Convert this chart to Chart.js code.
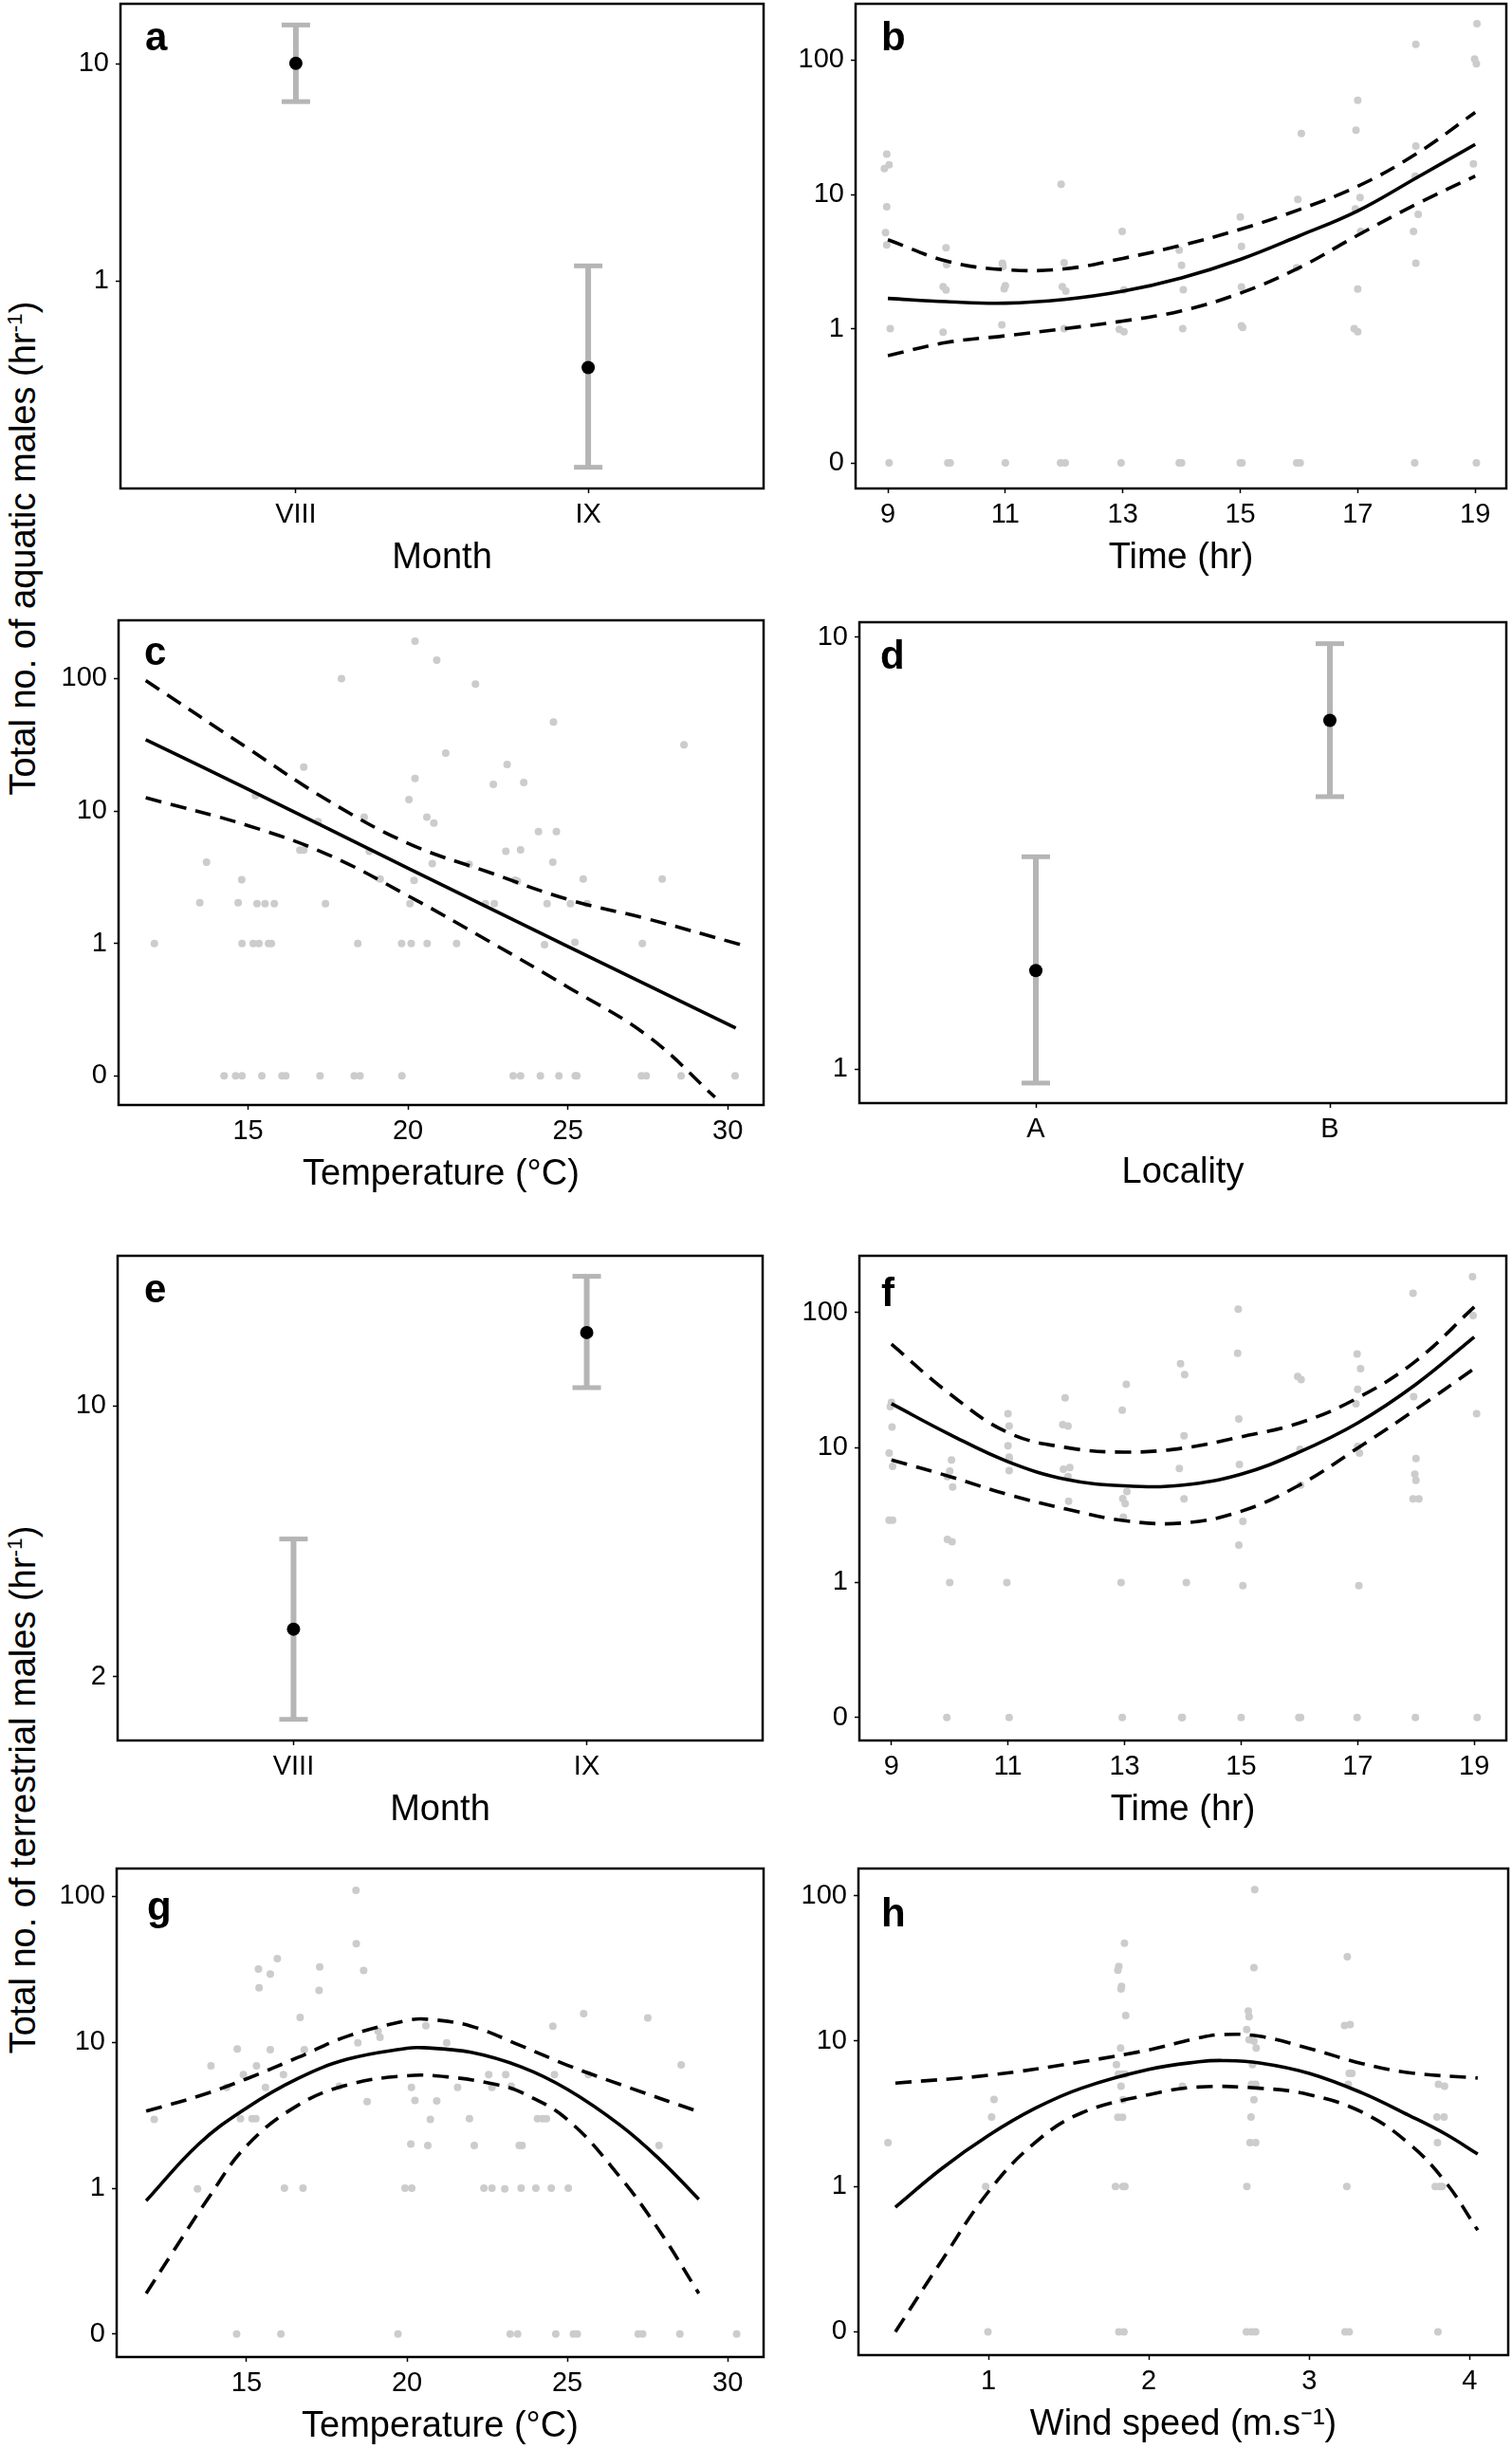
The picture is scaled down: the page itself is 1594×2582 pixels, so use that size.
<!DOCTYPE html>
<html>
<head>
<meta charset="utf-8">
<title>Aquatic and terrestrial males</title>
<script src="https://cdn.jsdelivr.net/npm/chart.js@4.4.1/dist/chart.umd.min.js"></script>
<style>
    html, body { margin: 0; padding: 0; background: #fff; overflow: hidden; }
    body { position: relative; width: 1594px; height: 2582px; font-family: "Liberation Sans", Arial, sans-serif; }
    canvas.panel { position: absolute; }
    .ytitle {
        position: absolute; white-space: nowrap; font-size: 38px; color: #000;
        transform: translate(-50%, -50%) rotate(-90deg);
    }
    .ytitle sup { font-size: 0.6em; }
</style>
</head>
<body>
<div class="ytitle" style="left:24px; top:578px">Total no. of aquatic males (hr<sup>-1</sup>)</div>
<div class="ytitle" style="left:24px; top:1887px">Total no. of terrestrial males (hr<sup>-1</sup>)</div>

<canvas id="panelA" class="panel"></canvas>
<canvas id="panelB" class="panel"></canvas>
<canvas id="panelC" class="panel"></canvas>
<canvas id="panelD" class="panel"></canvas>
<canvas id="panelE" class="panel"></canvas>
<canvas id="panelF" class="panel"></canvas>
<canvas id="panelG" class="panel"></canvas>
<canvas id="panelH" class="panel"></canvas>

<script>
// ---- data ----
const monthCats = ['VIII', 'IX'];
const localityCats = ['A', 'B'];
const countTicks = [0, 1, 10, 100];
const hours = [9, 10, 11, 12, 13, 14, 15, 16, 17, 18, 19];

// a: aquatic males by month
const aquaticMonthMean = [10.06, 0.40];
const aquaticMonthLow = [6.70, 0.139];
const aquaticMonthHigh = [15.1, 1.175];

// d: aquatic males by locality
const localityMean = [1.69, 6.41];
const localityLow = [0.928, 4.27];
const localityHigh = [3.10, 9.65];

// e: terrestrial males by month
const terrMonthMean = [2.65, 15.46];
const terrMonthLow = [1.55, 11.14];
const terrMonthHigh = [4.53, 21.6];

// b: aquatic males vs time of day
const bTime = [8.98, 9.02, 8.94, 8.98, 8.96, 8.98, 9.04, 9.02,
    9.99, 10.0, 9.94, 9.99, 9.94, 10.02, 10.06,
    10.95, 10.96, 11.0, 10.98, 10.94, 11.0,
    11.95, 12.0, 11.97, 12.03, 12.0, 11.94, 12.02,
    12.99, 13.02, 12.94, 13.02, 12.97,
    13.96, 14.0, 14.03, 14.02, 13.96, 14.0,
    15.0, 15.02, 15.02, 15.02, 15.04, 15.0, 15.03,
    16.04, 15.98, 15.96, 15.96, 16.02,
    17.0, 16.97, 17.04, 16.96, 17.05, 17.0, 16.94, 17.0,
    17.99, 17.99, 17.98, 18.03, 17.95, 17.99, 17.97,
    19.03, 18.99, 19.02, 18.97, 19.02];
const bCount = [20, 16.6, 15.6, 8.1, 5.2, 4.2, 1.0, 0,
    4.0, 3.0, 2.06, 1.94, 0.94, 0, 0,
    3.07, 2.9, 2.09, 1.98, 1.07, 0,
    11.9, 3.1, 2.06, 1.9, 1.0, 0, 0,
    5.3, 1.94, 0.99, 0.95, 0,
    3.85, 2.96, 1.95, 1.0, 0, 0,
    6.8, 4.1, 2.05, 1.05, 1.02, 0, 0,
    28.4, 9.2, 2.85, 0, 0,
    50.3, 30.1, 9.5, 7.8, 5.3, 1.97, 1.0, 0.95,
    131, 22.9, 13.7, 7.1, 5.3, 3.07, 0,
    187, 102, 94, 16.9, 0];
const bFit = [1.68, 1.59, 1.55, 1.65, 1.90, 2.39, 3.28, 4.91, 7.54, 13.3, 23.6];
const bUpper = [4.6, 3.19, 2.75, 2.79, 3.34, 4.18, 5.5, 7.7, 11.5, 20.1, 40.8];
const bLower = [0.63, 0.79, 0.885, 1.0, 1.14, 1.36, 1.84, 2.84, 4.97, 8.47, 13.7];

// c: aquatic males vs temperature
const cTemp = [20.22, 20.9, 17.92, 22.11, 24.55, 28.63, 21.18, 23.1, 16.74, 20.22,
    22.67, 23.62, 15.23, 20.03, 20.59, 20.81, 18.63, 17.19, 24.08, 24.64,
    16.62, 16.74, 18.79, 23.06, 23.52, 13.7, 20.76, 21.91, 24.53, 14.8,
    19.13, 20.19, 23.35, 23.42, 25.48, 27.95, 13.49, 14.69, 15.28, 15.53,
    15.82, 17.42, 20.06, 22.42, 22.7, 24.35, 25.08, 25.6, 12.07, 14.81,
    15.16, 15.34, 15.64, 15.73, 18.43, 19.8, 20.1, 20.6, 21.52, 24.27,
    25.22, 27.33,
    14.25, 14.61, 14.81, 15.43, 16.06, 16.18, 17.25, 18.32, 18.5, 19.81,
    23.29, 23.52, 24.14, 24.72, 25.23, 25.28, 27.3, 27.45, 28.54, 30.23];
const cCount = [192, 138, 100, 91, 47, 31.6, 27.4, 22.5, 21.5, 17.6,
    15.9, 16.4, 13.1, 12.2, 9.0, 8.1, 9.0, 8.3, 7.0, 7.0,
    5.06, 5.06, 4.96, 4.96, 5.08, 4.1, 4.0, 3.96, 4.1, 3.03,
    3.07, 2.99, 3.0, 2.95, 3.07, 3.07, 2.03, 2.03, 2.0, 2.0,
    2.0, 2.0, 2.0, 2.0, 2.0, 2.0, 2.0, 2.0, 1.0, 1.0,
    1.0, 1.0, 1.0, 1.0, 1.0, 1.0, 1.0, 1.0, 1.0, 0.98,
    1.02, 1.0,
    0, 0, 0, 0, 0, 0, 0, 0, 0, 0,
    0, 0, 0, 0, 0, 0, 0, 0, 0, 0];
const cFitTemp = [11.8, 15, 20, 25, 30.25];
const cFit = [34.5, 14.6, 3.7, 0.95, 0.23];
const cUpperTemp = [11.8, 15, 17.5, 20, 22.5, 25, 27.5, 30.4];
const cUpper = [96.6, 29.7, 12.0, 5.7, 3.47, 2.15, 1.53, 0.98];
const cLowerTemp = [11.8, 15, 17.5, 20, 22.5, 25, 27.5, 29.6];
const cLower = [12.6, 7.76, 4.68, 2.29, 1.05, 0.468, 0.2, 0.069];

// f: terrestrial males vs time of day
const fTime = [9.0, 8.98, 9.01, 8.96, 9.02, 8.96, 9.02,
    10.03, 10.0, 9.96, 10.05, 9.96, 10.04, 10.0, 9.95,
    11.0, 11.02, 11.0, 11.02, 11.02, 11.02, 10.98, 11.02,
    11.98, 11.94, 12.03, 11.95, 12.06, 12.03, 12.04,
    13.03, 12.96, 13.04, 12.97, 13.01, 12.98, 12.94, 12.96,
    13.96, 14.03, 14.02, 13.94, 14.02, 14.06, 13.99, 13.98,
    14.95, 14.94, 14.96, 14.97, 15.03, 14.96, 15.03, 15.0,
    15.97, 16.03, 16.01, 16.02, 15.99, 16.02,
    16.99, 17.05, 17.0, 16.97, 17.0, 17.03, 17.02, 16.99,
    17.95, 17.96, 18.0, 17.98, 18.0, 17.95, 18.05, 17.99,
    18.97, 18.98, 19.04, 19.05];
const fCount = [21.6, 20.1, 14.2, 9.1, 7.25, 2.89, 2.9,
    8.1, 6.7, 6.1, 5.1, 2.09, 2.0, 1.0, 0,
    17.8, 14.4, 10.3, 8.5, 8.2, 6.75, 1.0, 0,
    23.3, 14.8, 14.4, 6.9, 7.1, 6.1, 4.0,
    29.4, 18.9, 4.72, 4.19, 3.84, 3.05, 1.0, 0,
    41.8, 34.7, 12.2, 7.0, 4.16, 1.0, 0, 0,
    106, 50, 16.3, 7.5, 2.84, 1.89, 0.95, 0,
    33.6, 31.8, 9.7, 5.27, 0, 0,
    49.3, 38.4, 27, 21.1, 10.2, 9.1, 0.95, 0,
    139, 23.8, 8.3, 6.35, 5.7, 4.16, 4.16, 0,
    184, 94.8, 17.8, 0];
const fFit = [21.1, 12.5, 7.85, 5.8, 5.2, 5.27, 6.35, 9.26, 15.2, 29.4, 65.9];
const fUpper = [58.2, 25.0, 12.9, 10.0, 9.24, 9.9, 12.0, 15.2, 23.3, 43.8, 110];
const fLower = [8.1, 6.1, 4.48, 3.5, 2.87, 2.76, 3.37, 5.27, 9.9, 19.2, 38.4];

// g: terrestrial males vs temperature
const gTemp = [18.41, 18.42, 15.96, 15.37, 17.28, 18.65, 15.74, 15.39, 17.26, 25.51,
    16.67, 27.51, 20.59, 24.55, 19.1, 19.16, 18.47, 21.24, 14.71, 15.74,
    16.8, 13.89, 15.31, 28.55, 14.9, 16.15, 23.08, 22.55, 24.6, 25.66,
    14.38, 15.59, 17.89, 20.14, 21.58, 22.65, 23.25, 18.76, 20.25, 20.93,
    12.12, 14.81, 15.17, 15.29, 20.73, 21.95, 24.07, 24.23, 24.35, 20.12,
    20.65, 22.1, 23.5, 23.59, 27.86, 13.47, 16.18, 16.76, 19.94, 20.15,
    22.4, 22.65, 23.05, 23.56, 24.02, 24.5, 25.03, 14.69, 16.07, 19.72,
    23.22, 23.45, 24.64, 25.19, 25.31, 27.21, 27.35, 28.51, 30.28];
const gCount = [110, 47.4, 37.5, 31.8, 32.8, 31.1, 29.4, 23.6, 22.7, 15.7,
    14.8, 14.7, 13.0, 12.9, 11.9, 10.8, 9.9, 9.9, 9.0, 8.9,
    8.9, 6.9, 6.9, 7.0, 6.0, 6.0, 6.0, 6.0, 6.0, 6.0,
    4.9, 4.9, 5.0, 4.9, 4.9, 4.9, 5.0, 3.92, 4.0, 3.96,
    2.96, 3.0, 3.0, 3.0, 2.96, 3.0, 3.0, 3.0, 3.0, 2.01,
    1.96, 1.96, 1.96, 1.96, 1.96, 0.99, 1.0, 1.0, 1.0, 1.0,
    1.0, 1.0, 0.99, 1.0, 1.0, 1.0, 1.0, 0, 0, 0,
    0, 0, 0, 0, 0, 0, 0, 0, 0];
const gFitTemp = [11.87, 13.5, 15, 16.6, 18.14, 20, 20.5, 22, 23.56, 25, 26.66, 27.9, 29.1];
const gFit = [0.82, 2.0, 3.55, 5.65, 7.65, 9.1, 9.18, 8.53, 6.78, 4.76, 2.69, 1.56, 0.84];
const gUpperTemp = [11.87, 13.5, 15, 16.6, 18.14, 20, 20.62, 22, 23.56, 25, 26.66, 29.1];
const gUpper = [3.38, 4.27, 5.62, 7.87, 11.0, 14.1, 14.4, 12.9, 9.46, 6.97, 5.13, 3.34];
const gLowerTemp = [11.87, 12.72, 13.8, 15, 16.6, 18.14, 20, 21.24, 22.79, 23.56, 25, 26.66, 27.9, 29.1];
const gLower = [0.19, 0.37, 0.85, 1.95, 3.7, 5.1, 5.9, 5.8, 5.13, 4.54, 2.96, 1.18, 0.5, 0.19];

// h: terrestrial males vs wind speed
const hWind = [0.374, 0.983, 1.02, 1.035, 0.997,
    1.848, 1.813, 1.807, 1.83, 1.827, 1.856, 1.824, 1.798, 1.81, 1.833,
    1.853, 1.827, 1.839, 1.807, 1.836, 1.792, 1.839, 1.851, 1.813, 1.845,
    2.209,
    2.66, 2.655, 2.62, 2.625, 2.61, 2.625, 2.655, 2.669, 2.646, 2.64,
    2.666, 2.655, 2.637, 2.631, 2.666, 2.611, 2.608, 2.64, 2.666,
    3.237, 3.22, 3.255, 3.249, 3.266, 3.243, 3.234, 3.223, 3.249,
    3.805, 3.843, 3.796, 3.84, 3.799, 3.785, 3.811, 3.828, 3.802];
const hCount = [2.0, 1.0, 3.0, 3.97, 0,
    47.2, 32.6, 30.7, 23.8, 22.8, 15.0, 8.95, 6.9, 5.93, 5.93,
    5.93, 4.9, 3.95, 2.99, 2.99, 1.0, 1.0, 1.0, 0, 0,
    4.9,
    110, 32, 16.1, 14.7, 12.0, 10.2, 10.0, 8.95, 6.9, 5.05,
    5.05, 3.95, 3.0, 2.0, 2.0, 1.0, 0, 0, 0,
    38, 12.8, 13.0, 6.0, 6.0, 5.05, 1.0, 0, 0,
    5.05, 4.9, 3.0, 3.0, 2.0, 1.0, 1.0, 1.0, 0];
const hFitWind = [0.42, 0.71, 1.0, 1.29, 1.58, 2.0, 2.31, 2.46, 2.69, 3.0, 3.33, 3.62, 3.85, 4.05];
const hFit = [0.72, 1.33, 2.24, 3.44, 4.74, 6.38, 7.2, 7.35, 7.08, 6.0, 4.4, 3.09, 2.29, 1.67];
const hUpperWind = [0.42, 1.0, 1.58, 2.0, 2.31, 2.46, 2.69, 3.0, 3.33, 3.62, 4.05];
const hUpper = [5.14, 5.82, 7.2, 8.7, 10.5, 11.1, 10.8, 8.9, 7.0, 6.07, 5.57];
const hLowerWind = [0.42, 0.71, 1.0, 1.29, 1.58, 2.0, 2.31, 2.69, 3.0, 3.33, 3.62, 3.85, 4.05];
const hLower = [0.1, 0.31, 0.92, 2.0, 3.2, 4.28, 4.83, 4.74, 4.28, 3.24, 1.98, 1.07, 0.5];

// ---- styling / layout ----
const FONT = '"Liberation Sans", Arial, sans-serif';
const DOT = '#cccccc';
const BAR = '#b5b5b5';
const Y_W = 80, X_H = 96, PAD_T = 4, PAD_R = 4;

// zero counts sit one decade below 1 on the count axes
const lg = v => Math.log10(v > 0 ? v : 0.1);
const countPoints = (xs, ys) => xs.map((x, i) => ({ x, y: lg(ys[i]) }));

const framePlugin = {
    id: 'frame',
    afterDatasetsDraw(chart) {
        const { ctx, chartArea: a } = chart;
        ctx.save();
        ctx.strokeStyle = '#000';
        ctx.lineWidth = 2.5;
        ctx.strokeRect(a.left, a.top, a.right - a.left, a.bottom - a.top);
        ctx.restore();
    }
};

const letterPlugin = {
    id: 'panelLetter',
    afterDraw(chart, args, opts) {
        const { ctx, chartArea: a } = chart;
        ctx.save();
        ctx.font = 'bold 42px ' + FONT;
        ctx.fillStyle = '#000';
        ctx.textBaseline = 'alphabetic';
        ctx.fillText(opts.text, a.left + opts.dx, a.top + opts.dy);
        ctx.restore();
    }
};

function axisBase() {
    return {
        border: { display: false },
        grid: { drawOnChartArea: false, drawTicks: true, tickLength: 5, tickColor: '#000', tickWidth: 1.5 },
        ticks: { color: '#000', font: { family: FONT, size: 29 }, padding: 6, maxRotation: 0, autoSkip: false }
    };
}

function xAxis(min, max, title, tickValues, labelFn) {
    const s = axisBase();
    s.type = 'linear';
    s.min = min;
    s.max = max;
    s.ticks.callback = labelFn;
    s.title = { display: true, text: title, color: '#000', font: { family: FONT, size: 38 }, padding: 0 };
    s.afterBuildTicks = scale => { scale.ticks = tickValues.map(v => ({ value: v })); };
    s.afterFit = scale => { scale.height = X_H; scale.paddingLeft = 0; scale.paddingRight = 0; };
    return s;
}

function countAxis(min, max) {
    const s = axisBase();
    s.type = 'linear';
    s.min = min;
    s.max = max;
    s.ticks.padding = 7;
    s.ticks.callback = (v, i) => String(countTicks[i]);
    s.afterBuildTicks = scale => { scale.ticks = countTicks.map(v => ({ value: lg(v) })); };
    s.afterFit = scale => { scale.width = Y_W; scale.paddingTop = 0; scale.paddingBottom = 0; };
    return s;
}

function logAxis(min, max, tickValues) {
    const s = axisBase();
    s.type = 'logarithmic';
    s.min = min;
    s.max = max;
    s.ticks.padding = 7;
    s.ticks.callback = (v, i) => String(tickValues[i]);
    s.afterBuildTicks = scale => { scale.ticks = tickValues.map(v => ({ value: v })); };
    s.afterFit = scale => { scale.width = Y_W; scale.paddingTop = 0; scale.paddingBottom = 0; };
    return s;
}

function scatterSet(xs, ys) {
    return {
        type: 'scatter', data: countPoints(xs, ys), order: 3,
        pointRadius: 4, pointBackgroundColor: DOT, pointBorderWidth: 0
    };
}

function curveSet(xs, ys, dashed) {
    return {
        type: 'line', data: countPoints(xs, ys), order: 1,
        borderColor: '#000', borderWidth: 3.6, borderDash: dashed ? [17, 10] : [],
        pointRadius: 0, fill: false, tension: 0.4
    };
}

function errorBarSets(means, lows, highs) {
    const bars = means.map((m, i) => ({
        type: 'line', order: 2,
        data: [{ x: i + 1, y: lows[i] }, { x: i + 1, y: highs[i] }],
        borderColor: BAR, borderWidth: 6,
        pointStyle: 'line', pointRadius: 15, pointBorderColor: BAR, pointBorderWidth: 5
    }));
    bars.push({
        type: 'scatter', order: 1,
        data: means.map((m, i) => ({ x: i + 1, y: m })),
        pointRadius: 7, pointBackgroundColor: '#000', pointBorderWidth: 0
    });
    return bars;
}

function makePanel(id, box, letter, datasets, xScale, yScale) {
    const [L, T, R, B] = box;
    const canvas = document.getElementById(id);
    const w = R - L + Y_W + PAD_R;
    const h = B - T + PAD_T + X_H;
    canvas.width = w;
    canvas.height = h;
    canvas.style.left = (L - Y_W) + 'px';
    canvas.style.top = (T - PAD_T) + 'px';
    canvas.style.width = w + 'px';
    canvas.style.height = h + 'px';

    return new Chart(canvas, {
        data: { datasets },
        options: {
            responsive: false,
            animation: false,
            events: [],
            layout: { autoPadding: false, padding: { top: PAD_T, right: PAD_R, left: 0, bottom: 0 } },
            plugins: {
                legend: { display: false },
                tooltip: { enabled: false },
                panelLetter: letter
            },
            scales: { x: xScale, y: yScale }
        },
        plugins: [framePlugin, letterPlugin]
    });
}

const monthLabel = (v, i) => monthCats[i];
const localityLabel = (v, i) => localityCats[i];
const plainLabel = v => String(v);

makePanel('panelA', [127, 4, 805, 515], { text: 'a', dx: 26, dy: 49 },
    errorBarSets(aquaticMonthMean, aquaticMonthLow, aquaticMonthHigh),
    xAxis(0.4, 2.6, 'Month', [1, 2], monthLabel),
    logAxis(0.111, 18.9, [1, 10]));

makePanel('panelB', [902, 4, 1588, 515], { text: 'b', dx: 27, dy: 49 },
    [scatterSet(bTime, bCount), curveSet(hours, bFit, false),
     curveSet(hours, bUpper, true), curveSet(hours, bLower, true)],
    xAxis(8.45, 19.53, 'Time (hr)', [9, 11, 13, 15, 17, 19], plainLabel),
    countAxis(-1.19, 2.42));

makePanel('panelC', [125, 654, 805, 1165], { text: 'c', dx: 27, dy: 47 },
    [scatterSet(cTemp, cCount), curveSet(cFitTemp, cFit, false),
     curveSet(cUpperTemp, cUpper, true), curveSet(cLowerTemp, cLower, true)],
    xAxis(10.95, 31.12, 'Temperature (°C)', [15, 20, 25, 30], plainLabel),
    countAxis(-1.22, 2.44));

makePanel('panelD', [906, 656, 1588, 1163], { text: 'd', dx: 22, dy: 49 },
    errorBarSets(localityMean, localityLow, localityHigh),
    xAxis(0.4, 2.6, 'Locality', [1, 2], localityLabel),
    logAxis(0.834, 10.82, [1, 10]));

makePanel('panelE', [124, 1324, 804, 1835], { text: 'e', dx: 28, dy: 49 },
    errorBarSets(terrMonthMean, terrMonthLow, terrMonthHigh),
    xAxis(0.4, 2.6, 'Month', [1, 2], monthLabel),
    logAxis(1.367, 24.4, [2, 10]));

makePanel('panelF', [906, 1324, 1588, 1835], { text: 'f', dx: 23, dy: 53 },
    [scatterSet(fTime, fCount), curveSet(hours, fFit, false),
     curveSet(hours, fUpper, true), curveSet(hours, fLower, true)],
    xAxis(8.45, 19.55, 'Time (hr)', [9, 11, 13, 15, 17, 19], plainLabel),
    countAxis(-1.17, 2.42));

makePanel('panelG', [123, 1970, 805, 2485], { text: 'g', dx: 32, dy: 54 },
    [scatterSet(gTemp, gCount), curveSet(gFitTemp, gFit, false),
     curveSet(gUpperTemp, gUpper, true), curveSet(gLowerTemp, gLower, true)],
    xAxis(10.95, 31.12, 'Temperature (°C)', [15, 20, 25, 30], plainLabel),
    countAxis(-1.157, 2.191));

makePanel('panelH', [905, 1970, 1590, 2483], { text: 'h', dx: 24, dy: 61 },
    [scatterSet(hWind, hCount), curveSet(hFitWind, hFit, false),
     curveSet(hUpperWind, hUpper, true), curveSet(hLowerWind, hLower, true)],
    xAxis(0.19, 4.24, 'Wind speed (m.s\u207B\u00B9)', [1, 2, 3, 4], plainLabel),
    countAxis(-1.16, 2.187));
</script>
</body>
</html>
